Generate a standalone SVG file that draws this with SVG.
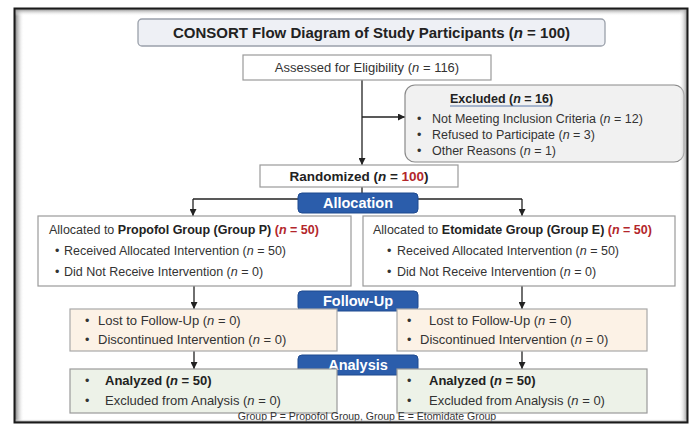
<svg xmlns="http://www.w3.org/2000/svg" width="695" height="425" viewBox="0 0 695 425">
<defs>
<marker id="ah" viewBox="0 0 10 10" refX="10" refY="5" markerWidth="7" markerHeight="7" markerUnits="userSpaceOnUse" orient="auto">
<path d="M0,0 L10,5 L0,10 z" fill="#222"/>
</marker>
<linearGradient id="gL" x1="0" y1="0" x2="1" y2="0"><stop offset="0" stop-color="#7a7a7a"/><stop offset="1" stop-color="#fff" stop-opacity="0"/></linearGradient>
<linearGradient id="gR" x1="1" y1="0" x2="0" y2="0"><stop offset="0" stop-color="#999"/><stop offset="1" stop-color="#fff" stop-opacity="0"/></linearGradient>
<linearGradient id="gT" x1="0" y1="0" x2="0" y2="1"><stop offset="0" stop-color="#8a8a8a"/><stop offset="1" stop-color="#fff" stop-opacity="0"/></linearGradient>
<linearGradient id="gB" x1="0" y1="1" x2="0" y2="0"><stop offset="0" stop-color="#777"/><stop offset="1" stop-color="#fff" stop-opacity="0"/></linearGradient>
</defs>
<style>
text{font-family:"Liberation Sans",Arial,sans-serif;fill:#333;}
.t{font-size:12.5px;}
.b{font-weight:bold;fill:#222;}
.i{font-style:italic;}
.red{fill:#b3262b;font-weight:bold;}
.lab{font-size:14.5px;font-weight:bold;fill:#fff;text-anchor:middle;}
.blue{fill:#2b5dab;stroke:#1f4a8f;stroke-width:1;}
.box{fill:#fff;stroke:#9a9a9a;stroke-width:1.2;}
.fu{fill:#fcf2e6;stroke:#a8a8a8;stroke-width:1.2;}
.an{fill:#edf2e8;stroke:#9a9a9a;stroke-width:1.2;}
.con{stroke:#222;stroke-width:1.3;fill:none;}
</style>
<rect x="0" y="0" width="695" height="425" fill="#fff"/>

<g id="connectors">
<line class="con" x1="362" y1="80" x2="362" y2="165" marker-end="url(#ah)"/>
<line class="con" x1="362" y1="117" x2="405" y2="117" marker-end="url(#ah)"/>
<line class="con" x1="362" y1="187" x2="362" y2="199"/>
<line class="con" x1="193" y1="199" x2="522" y2="199"/>
<line class="con" x1="193" y1="199" x2="193" y2="216" marker-end="url(#ah)"/>
<line class="con" x1="522" y1="199" x2="522" y2="216" marker-end="url(#ah)"/>
<line class="con" x1="194" y1="286" x2="194" y2="309" marker-end="url(#ah)"/>
<line class="con" x1="522" y1="286" x2="522" y2="309" marker-end="url(#ah)"/>
<line class="con" x1="194" y1="351" x2="194" y2="369" marker-end="url(#ah)"/>
<line class="con" x1="522" y1="351" x2="522" y2="369" marker-end="url(#ah)"/>
</g>

<g id="title">
<rect x="138" y="19" width="467" height="27" rx="4" fill="#eef0f5" stroke="#9aa0aa" stroke-width="1.3"/>
<text x="371.5" y="38" text-anchor="middle" class="b" font-size="15">CONSORT Flow Diagram of Study Participants (<tspan class="i">n</tspan> = 100)</text>
</g>

<g id="assessed">
<rect class="box" x="243" y="55" width="248" height="25"/>
<text x="367" y="72" text-anchor="middle" font-size="13">Assessed for Eligibility (<tspan class="i">n</tspan> = 116)</text>
</g>

<g id="excluded">
<rect x="405" y="85" width="279" height="77" rx="10" fill="#f1f1f1" stroke="#8a8a8a" stroke-width="1.2"/>
<text x="450" y="103" class="t b">Excluded (<tspan class="i">n</tspan> = 16)</text>
<line x1="450" y1="106" x2="552" y2="106" stroke="#5a78aa" stroke-width="1"/>
<text x="417" y="123" class="t">•</text><text x="432" y="123" class="t">Not Meeting Inclusion Criteria (<tspan class="i">n</tspan> = 12)</text>
<text x="417" y="139" class="t">•</text><text x="432" y="139" class="t">Refused to Participate (<tspan class="i">n</tspan> = 3)</text>
<text x="417" y="155" class="t">•</text><text x="432" y="155" class="t">Other Reasons (<tspan class="i">n</tspan> = 1)</text>
</g>

<g id="randomized">
<rect class="box" x="260" y="165" width="198" height="22"/>
<text x="359" y="181" text-anchor="middle" class="b" font-size="13.5">Randomized (<tspan class="i">n</tspan> = <tspan class="red">100</tspan>)</text>
</g>

<g id="allocation">
<rect class="blue" x="298" y="193" width="120" height="20" rx="4"/>
<text x="358" y="208" class="lab">Allocation</text>
</g>

<g id="group-p">
<rect class="box" x="38" y="216" width="313" height="70"/>
<text x="49" y="234" class="t">Allocated to <tspan class="b">Propofol Group (Group P)</tspan> <tspan class="red">(<tspan class="i">n</tspan> = 50)</tspan></text>
<text x="55" y="255" class="t">•</text><text x="64" y="255" class="t">Received Allocated Intervention (<tspan class="i">n</tspan> = 50)</text>
<text x="55" y="276" class="t">•</text><text x="64" y="276" class="t">Did Not Receive Intervention (<tspan class="i">n</tspan> = 0)</text>
</g>

<g id="group-e">
<rect class="box" x="363" y="216" width="312" height="70"/>
<text x="373" y="234" class="t">Allocated to <tspan class="b">Etomidate Group (Group E)</tspan> <tspan class="red">(<tspan class="i">n</tspan> = 50)</tspan></text>
<text x="387" y="255" class="t">•</text><text x="397" y="255" class="t">Received Allocated Intervention (<tspan class="i">n</tspan> = 50)</text>
<text x="387" y="276" class="t">•</text><text x="397" y="276" class="t">Did Not Receive Intervention (<tspan class="i">n</tspan> = 0)</text>
</g>

<g id="follow-up">
<rect class="blue" x="298" y="291" width="120" height="20" rx="4"/>
<text x="358" y="306" class="lab">Follow-Up</text>
</g>

<g id="followup-p">
<rect class="fu" x="70" y="309" width="267" height="42"/>
<text x="85" y="325" class="t">•</text><text x="98" y="325" font-size="13">Lost to Follow-Up (<tspan class="i">n</tspan> = 0)</text>
<text x="85" y="344" class="t">•</text><text x="98" y="344" font-size="13">Discontinued Intervention  (<tspan class="i">n</tspan> = 0)</text>
</g>

<g id="followup-e">
<rect class="fu" x="397" y="309" width="250" height="42"/>
<text x="407" y="325" class="t">•</text><text x="429" y="325" font-size="13">Lost to Follow-Up (<tspan class="i">n</tspan> = 0)</text>
<text x="407" y="344" class="t">•</text><text x="420" y="344" font-size="13">Discontinued Intervention  (<tspan class="i">n</tspan> = 0)</text>
</g>

<g id="analysis">
<rect class="blue" x="298" y="355" width="120" height="20" rx="4"/>
<text x="358" y="370" class="lab">Analysis</text>
</g>

<g id="analysis-p">
<rect class="an" x="70" y="369" width="267" height="44"/>
<text x="85" y="385" class="t">•</text><text x="105" y="385" class="b" font-size="13">Analyzed (<tspan class="i">n</tspan> = 50)</text>
<text x="85" y="405" class="t">•</text><text x="105" y="405" font-size="13">Excluded from Analysis (<tspan class="i">n</tspan> = 0)</text>
</g>

<g id="analysis-e">
<rect class="an" x="397" y="369" width="250" height="44"/>
<text x="407" y="385" class="t">•</text><text x="429" y="385" class="b" font-size="13">Analyzed (<tspan class="i">n</tspan> = 50)</text>
<text x="407" y="405" class="t">•</text><text x="429" y="405" font-size="13">Excluded from Analysis (<tspan class="i">n</tspan> = 0)</text>
</g>

<text id="footer" x="367" y="420" text-anchor="middle" font-size="10.5" fill="#444">Group P = Propofol Group, Group E = Etomidate Group</text>

<g id="frame">
<rect x="15" y="9" width="9" height="413" fill="url(#gL)"/>
<rect x="15" y="9" width="672" height="7" fill="url(#gT)"/>
<rect x="679" y="9" width="8" height="413" fill="url(#gR)"/>
<rect x="15" y="419" width="672" height="3" fill="url(#gB)"/>
<rect x="14.5" y="8.5" width="673" height="414" fill="none" stroke="#1a1a1a" stroke-width="2"/>
</g>
</svg>
